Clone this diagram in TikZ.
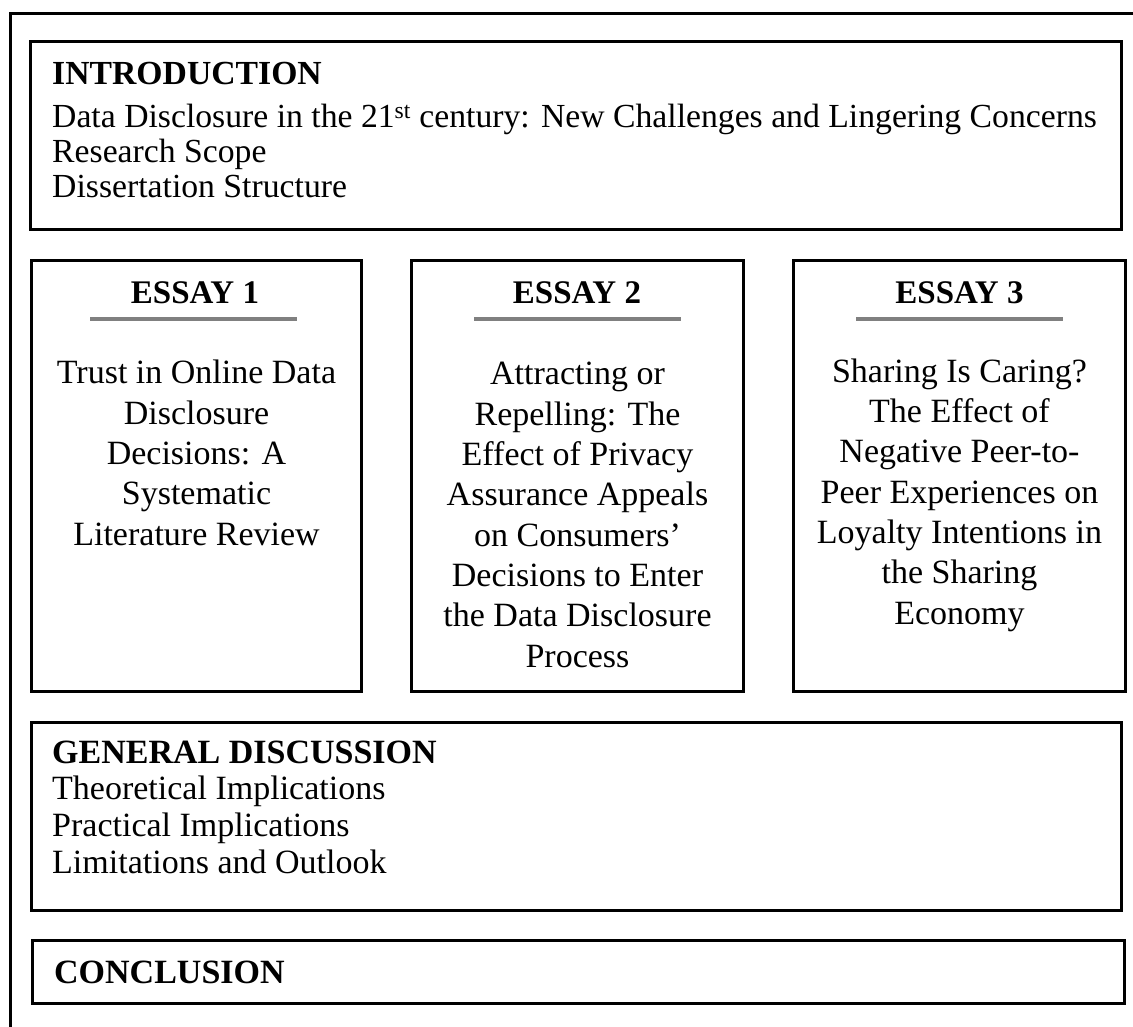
\documentclass[tikz,border=0pt]{standalone}
\usepackage{fontspec}
\setmainfont{Liberation Serif}
\usetikzlibrary{positioning,calc}
\tikzset{
    frame/.style={line width=3pt},
    box/.style={draw, line width=2.8pt, anchor=north west, inner sep=0pt, outer sep=0pt},
    headtxt/.style={font=\bfseries\fontsize{33.7}{35}\selectfont, anchor=base west, inner sep=0pt},
    listtxt/.style={font=\fontsize{33.7}{35}\selectfont, align=left, anchor=base west, inner sep=0pt},
    essayhead/.style={font=\bfseries\fontsize{33}{40}\selectfont, anchor=base, inner sep=0pt},
    essaytxt/.style={font=\fontsize{34}{40.3}\selectfont, align=center, anchor=base, inner sep=0pt},
    bar/.style={fill=gray, minimum width=207pt, minimum height=4.5pt, inner sep=0pt}
}

\begin{document}
\begin{tikzpicture}[x=1pt, y=-1pt]
    \useasboundingbox (0,0) rectangle (1133,1027);
    \draw[frame] (10,1027) -- (10,14) -- (1133,14);

    % introduction (multi-line texts sit on the baseline of their last line)
    \node[box, minimum width=1091pt, minimum height=188pt] (intro) at (30.5,41.5) {};
    \node[headtxt] (introhead) at (52,85) {INTRODUCTION};
    \node[listtxt] (introlist) at (52,198) {Data Disclosure in the 21\textsuperscript{st} century: New Challenges and Lingering Concerns\\
        Research Scope\\
        Dissertation Structure};

    % the three essays
    \node[box, minimum width=330pt, minimum height=431pt] (essay1) at (31.5,260.5) {};
    \node[box, minimum width=332pt, minimum height=431pt] (essay2) at (411.5,260.5) {};
    \node[box, minimum width=332pt, minimum height=431pt] (essay3) at (793.5,260.5) {};

    \node[essayhead] (head1) at (195,303) {ESSAY 1};
    \node[essayhead] (head2) at (577,303) {ESSAY 2};
    \node[essayhead] (head3) at (959.5,303) {ESSAY 3};

    \node[bar] (bar1) at (193,319) {};
    \node[bar] (bar2) at (577,319) {};
    \node[bar] (bar3) at (959.5,319) {};

    \node[essaytxt] (title1) at (196.5,545) {Trust in Online Data\\ Disclosure\\ Decisions: A\\ Systematic\\ Literature Review};
    \node[essaytxt] (title2) at (577.5,667) {Attracting or\\ Repelling: The\\ Effect of Privacy\\ Assurance Appeals\\ on Consumers’\\ Decisions to Enter\\ the Data Disclosure\\ Process};
    \node[essaytxt] (title3) at (959.5,624) {Sharing Is Caring?\\ The Effect of\\ Negative Peer-to-\\ Peer Experiences on\\ Loyalty Intentions in\\ the Sharing\\ Economy};

    % general discussion
    \node[box, minimum width=1090pt, minimum height=188pt] (discussion) at (31.5,722.5) {};
    \node[headtxt, font=\bfseries\fontsize{34}{37}\selectfont] (discusshead) at (52,763) {GENERAL DISCUSSION};
    \node[listtxt, font=\fontsize{34}{36.7}\selectfont] (discusslist) at (52,873) {Theoretical Implications\\
        Practical Implications\\
        Limitations and Outlook};

    % conclusion
    \node[box, minimum width=1092pt, minimum height=63pt] (conclusion) at (32.5,940.5) {};
    \node[headtxt, font=\bfseries\fontsize{34}{37}\selectfont] (conclhead) at (54,983) {CONCLUSION};
\end{tikzpicture}
\end{document}
